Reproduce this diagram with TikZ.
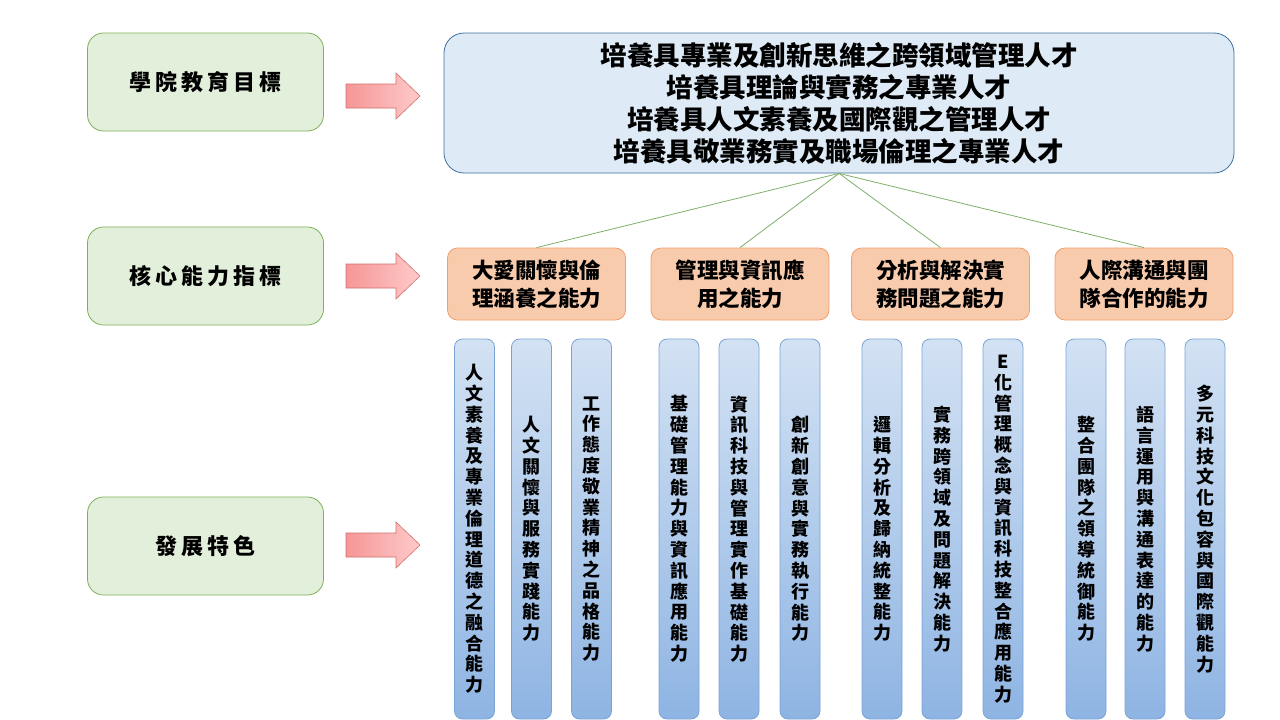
\documentclass[tikz,border=0pt]{standalone}
\usepackage{fontspec}
\newfontfamily\cjk{Noto Sans CJK TC}
\newfontfamily\cjksp[LetterSpace=18]{Noto Sans CJK TC}
\definecolor{gfill}{HTML}{E2EFDA}
\definecolor{gdraw}{HTML}{7FAF5A}
\definecolor{bfill}{HTML}{DEEAF6}
\definecolor{bdraw}{HTML}{41719C}
\definecolor{ofill}{HTML}{F8CBAD}
\definecolor{odraw}{HTML}{F0A070}
\definecolor{bartop}{HTML}{D3E2F3}
\definecolor{barbot}{HTML}{8EB4E3}
\definecolor{bardraw}{HTML}{7AA3D6}
\definecolor{arrl}{HTML}{F59696}
\definecolor{arrr}{HTML}{FFCACA}
\definecolor{arrd}{HTML}{D0706A}
\definecolor{linec}{HTML}{7FB069}
\tikzset{
  levelbox/.style={draw=gdraw, fill=gfill, rounded corners=16pt, minimum width=236pt, minimum height=98pt, line width=0.8pt, font={\cjksp\bfseries\fontsize{22}{26}\selectfont}},
  goalbox/.style={draw=bdraw, fill=bfill, rounded corners=20pt, minimum width=790pt, minimum height=140pt, line width=0.8pt, align=center, font={\cjk\bfseries\fontsize{26.5}{32}\selectfont}},
  corebox/.style={draw=odraw, fill=ofill, rounded corners=10pt, minimum width=178pt, minimum height=72pt, line width=0.8pt, align=center, font={\cjk\bfseries\fontsize{21.5}{28}\selectfont}},
  barbox/.style={draw=bardraw, top color=bartop, bottom color=barbot, rounded corners=8pt, minimum width=40pt, minimum height=380pt, line width=0.8pt, align=center, inner sep=0pt, font={\cjk\bfseries\fontsize{18}{20.8}\selectfont}},
  blockarrow/.style={draw=arrd, left color=arrl, right color=arrr, line width=0.6pt},
  link/.style={draw=linec, line width=0.8pt}
}
\begin{document}
\begin{tikzpicture}[x=1pt,y=-1pt]
\useasboundingbox (0,0) rectangle (1280,720);
% left level boxes
\node[levelbox] (L1) at (205.5,82) {學院教育目標};
\node[levelbox] (L2) at (205.5,276) {核心能力指標};
\node[levelbox] (L3) at (205.5,546) {發展特色};
% block arrows
\foreach \c in {96,276,545}{
  \path[blockarrow] (346,\c-12) -- (396,\c-12) -- (396,\c-23) -- (420,\c) -- (396,\c+23) -- (396,\c+12) -- (346,\c+12) -- cycle;
}
% goal box
\node[goalbox] (G) at (839,103) {培養具專業及創新思維之跨領域管理人才\\培養具理論與實務之專業人才\\培養具人文素養及國際觀之管理人才\\培養具敬業務實及職場倫理之專業人才};
% core boxes
\node[corebox] (C1) at (536.5,284) {大愛關懷與倫\\理涵養之能力};
\node[corebox] (C2) at (740,284) {管理與資訊應\\用之能力};
\node[corebox] (C3) at (940.5,284) {分析與解決實\\務問題之能力};
\node[corebox] (C4) at (1144,284) {人際溝通與團\\隊合作的能力};
\foreach \n in {C1,C2,C3,C4}{\draw[link] (G.south) -- (\n.north);}
% bars
\node[barbox] (B1) at (474.5,529) {人\\文\\素\\養\\及\\專\\業\\倫\\理\\道\\德\\之\\融\\合\\能\\力};
\node[barbox] (B2) at (531.5,529) {人\\文\\關\\懷\\與\\服\\務\\實\\踐\\能\\力};
\node[barbox] (B3) at (591.5,529) {工\\作\\態\\度\\敬\\業\\精\\神\\之\\品\\格\\能\\力};
\node[barbox] (B4) at (679,529) {基\\礎\\管\\理\\能\\力\\與\\資\\訊\\應\\用\\能\\力};
\node[barbox] (B5) at (739,529) {資\\訊\\科\\技\\與\\管\\理\\實\\作\\基\\礎\\能\\力};
\node[barbox] (B6) at (800,529) {創\\新\\創\\意\\與\\實\\務\\執\\行\\能\\力};
\node[barbox] (B7) at (882,529) {邏\\輯\\分\\析\\及\\歸\\納\\統\\整\\能\\力};
\node[barbox] (B8) at (942,529) {實\\務\\跨\\領\\域\\及\\問\\題\\解\\決\\能\\力};
\node[barbox] (B9) at (1003,529) {E\\化\\管\\理\\概\\念\\與\\資\\訊\\科\\技\\整\\合\\應\\用\\能\\力};
\node[barbox] (B10) at (1086,529) {整\\合\\團\\隊\\之\\領\\導\\統\\御\\能\\力};
\node[barbox] (B11) at (1145,529) {語\\言\\運\\用\\與\\溝\\通\\表\\達\\的\\能\\力};
\node[barbox] (B12) at (1205,529) {多\\元\\科\\技\\文\\化\\包\\容\\與\\國\\際\\觀\\能\\力};
\end{tikzpicture}
\end{document}
